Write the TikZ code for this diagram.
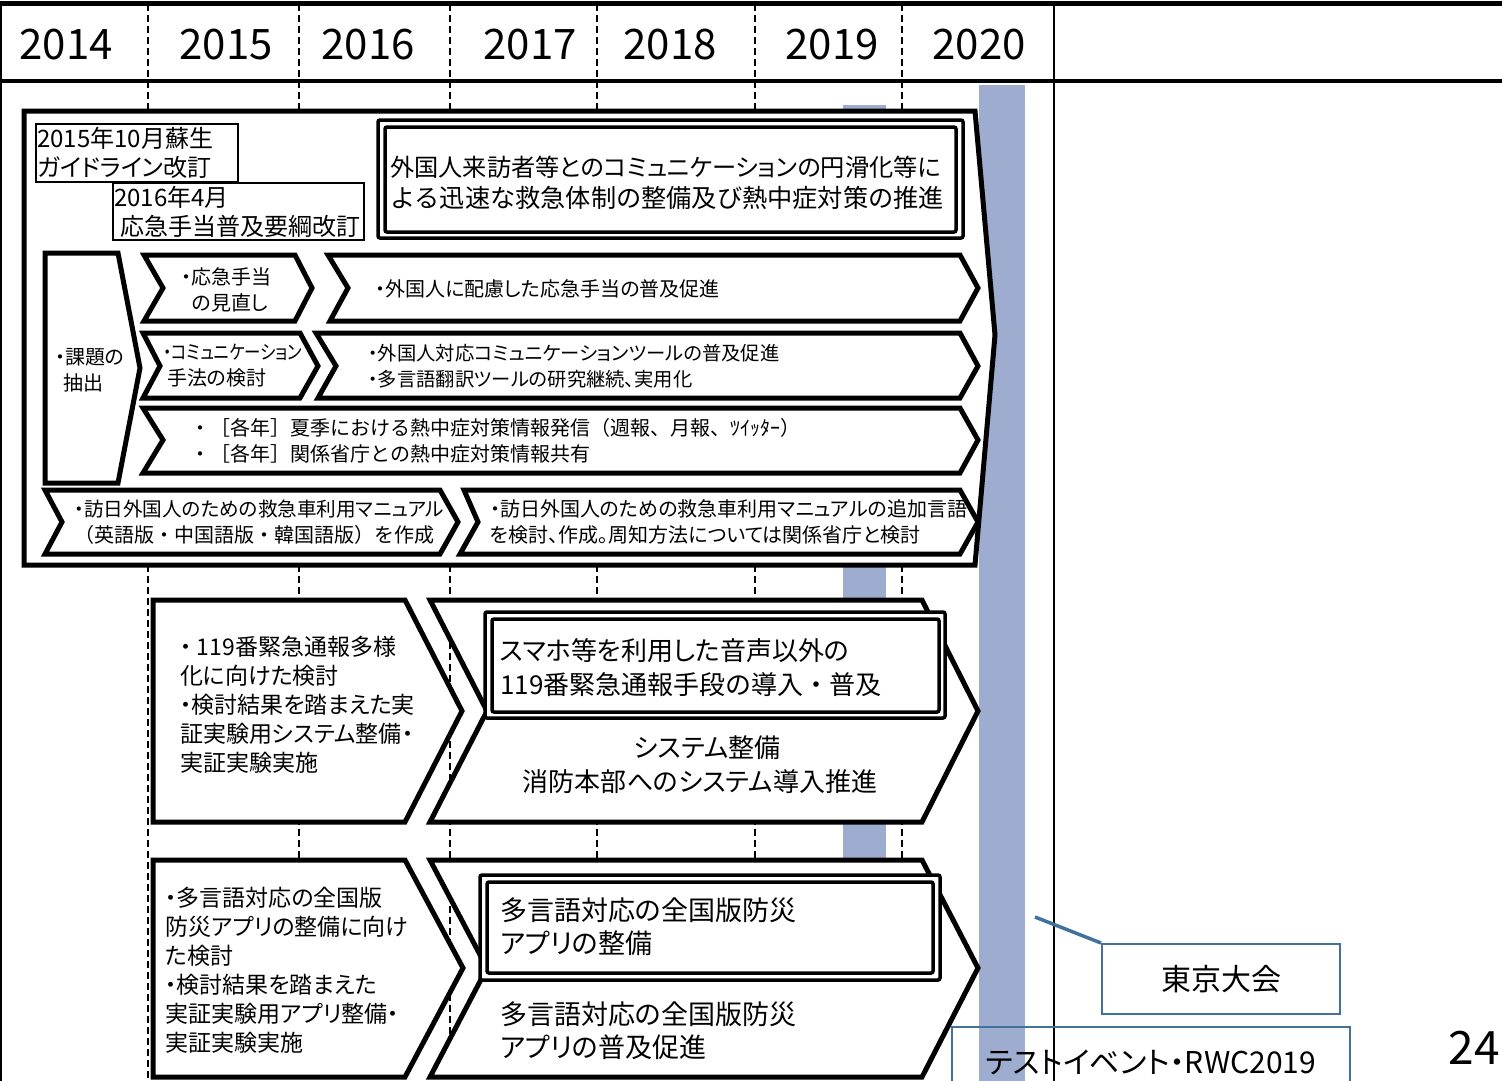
\documentclass[tikz,border=0pt]{standalone}
\usepackage{fontspec}
\setmainfont{Noto Sans CJK JP}[RawFeature=+palt]
\newfontfamily\jpfull{Noto Sans CJK JP}
\definecolor{steel}{RGB}{65,113,156}
\definecolor{bandc}{RGB}{158,172,208}
\tikzset{
  heavy/.style={line width=5pt, fill=white, line join=miter},
  dblbox/.style={line width=3.5pt, rounded corners=2pt, fill=white},
  thinbox/.style={line width=1.5pt, fill=white},
  vdash/.style={line width=1.5pt, dash pattern=on 7pt off 4pt},
  txt/.style={inner sep=0pt, align=left, anchor=west},
  ctxt/.style={inner sep=0pt, align=center},
  fyear/.style={font=\fontsize{42}{46}\selectfont},
  fa/.style={font=\fontsize{20}{26}\selectfont},
  fb/.style={font=\fontsize{23}{29}\selectfont},
  fc/.style={font=\fontsize{24}{29}\selectfont},
  fd/.style={font=\fontsize{24.2}{31}\selectfont},
  fe/.style={font=\fontsize{26}{34}\selectfont},
  ff/.style={font=\fontsize{27}{33}\selectfont},
  callbox/.style={draw=steel, line width=2pt, inner sep=0pt, font=\fontsize{30}{34}\selectfont},
}
\begin{document}
\begin{tikzpicture}[x=1pt,y=-1pt]
\useasboundingbox (0,0) rectangle (1502,1081);
\clip (0,0) rectangle (1502,1081);
% grid
\foreach \xx in {148,299,450,597,755,902} \draw[vdash] (\xx,4) -- (\xx,1081);
\draw[line width=5pt] (0,3.5) -- (1502,3.5);
\draw[line width=4pt] (0,81) -- (1502,81);
\draw[line width=2pt] (1,4) -- (1,1081);
\draw[line width=2.5pt] (1054,4) -- (1054,1081);
% years
\node[fyear, inner sep=0pt] (y14) at (66,45) {2014};
\node[fyear, inner sep=0pt] (y15) at (226,45) {2015};
\node[fyear, inner sep=0pt] (y16) at (368,45) {2016};
\node[fyear, inner sep=0pt] (y17) at (530,45) {2017};
\node[fyear, inner sep=0pt] (y18) at (670,45) {2018};
\node[fyear, inner sep=0pt] (y19) at (832,45) {2019};
\node[fyear, inner sep=0pt] (y20) at (979,45) {2020};
% bands
\fill[bandc] (843,105) rectangle (886,860);
\fill[bandc] (979,85) rectangle (1025,1081);
% upper big frame
\draw[heavy] (24,111) -- (975,111) -- (995,335) -- (975,565) -- (24,565) -- cycle;
\draw[thinbox] (36,124) rectangle (238,182);
\draw[thinbox] (113,183) rectangle (364,240);
\node[txt, fc] (g2015) at (37,153) {2015年10月蘇生\\ガイドライン改訂};
\node[txt, fc] (g2016) at (114,212) {2016年4月\\\hspace*{6pt}応急手当普及要綱改訂};
\draw[dblbox] (378,120) rectangle (963,238);
\draw[dblbox] (385,127) rectangle (956,232);
\node[txt, fd] (title) at (390,183) {外国人来訪者等とのコミュニケーションの円滑化等に\\{\jpfull\fontsize{25.2}{31}\selectfont よる迅速な救急体制の整備及び熱中症対策の推進}};
% kadai
\draw[heavy] (45,253) -- (118,253) -- (140,368) -- (118,483) -- (45,483) -- cycle;
\node[txt, fa] (kadai) at (55,370) {・課題の\\\hspace*{8pt}抽出};
% row 1
\draw[heavy] (144,255) -- (295,255) -- (312,288) -- (295,321) -- (144,321) -- (163,288) -- cycle;
\node[ctxt, fa] (r1l) at (226,290) {・応急手当\\\hspace*{8pt}の見直し};
\draw[heavy] (328,255) -- (960,255) -- (978,288) -- (960,321) -- (330,321) -- (348,288) -- cycle;
\node[txt, fa] (r1r) at (375,289) {・外国人に配慮した応急手当の普及促進};
% row 2
\draw[heavy] (143,333) -- (300,333) -- (318,366) -- (300,398) -- (143,398) -- (160,366) -- cycle;
\node[txt, fa] (r2l) at (163,366) {\scalebox{0.84}[1]{\fontsize{19.5}{26}\selectfont ・コミュニケーション}\\\hspace*{4pt}手法の検討};
\draw[heavy] (316,333) -- (960,333) -- (978,366) -- (960,398) -- (318,398) -- (336,366) -- cycle;
\node[txt, font=\fontsize{19.3}{26}\selectfont] (r2r) at (368,366) {・外国人対応コミュニケーションツールの普及促進\\・多言語翻訳ツールの研究継続、実用化};
% row 3
\draw[heavy] (143,408) -- (960,408) -- (978,440) -- (960,473) -- (143,473) -- (163,440) -- cycle;
\node[txt, font=\jpfull\fontsize{20}{26}\selectfont] (r3) at (190,441) {・［各年］夏季における熱中症対策情報発信（週報、月報、ﾂｲｯﾀｰ）\\・［各年］関係省庁との熱中症対策情報共有};
% row 4
\draw[heavy] (45,490) -- (440,490) -- (458,522) -- (440,554) -- (45,554) -- (62,522) -- cycle;
\node[txt, font=\fontsize{19.6}{26}\selectfont] (r4l) at (74,522) {・訪日外国人のための救急車利用マニュアル\\{\jpfull\fontsize{20}{26}\selectfont （英語版・中国語版・韓国語版）を作成}};
\draw[heavy] (464,490) -- (960,490) -- (978,522) -- (960,554) -- (460,554) -- (478,522) -- cycle;
\node[txt, fa] (r4r) at (490,522) {・訪日外国人のための救急車利用マニュアルの追加言語\\を検討、作成。周知方法については関係省庁と検討};
% section 119
\draw[heavy] (153,600) -- (405,600) -- (462,711) -- (405,822) -- (153,822) -- cycle;
\node[txt, fb] (s1l) at (180,705) {・ 119番緊急通報多様\\化に向けた検討\\・検討結果を踏まえた実\\証実験用システム整備・\\実証実験実施};
\draw[heavy] (430,600) -- (922,600) -- (978,711) -- (922,822) -- (430,822) -- (487,711) -- cycle;
\draw[dblbox] (485,612) rectangle (945,718);
\draw[dblbox] (492,619) rectangle (939,712);
\node[txt, fe] (s1t) at (500,668) {スマホ等を利用した音声以外の\\{\jpfull 119番緊急通報手段の導入・普及}};
\node[ctxt, fe] (s1b) at (700,765) {\hspace*{14pt}システム整備\\消防本部へのシステム導入推進};
% section app
\draw[heavy] (153,860) -- (405,860) -- (463,968) -- (405,1077) -- (153,1077) -- cycle;
\node[txt, fb] (s2l) at (165,970) {・多言語対応の全国版\\防災アプリの整備に向け\\た検討\\・検討結果を踏まえた\\実証実験用アプリ整備・\\実証実験実施};
\draw[heavy] (430,860) -- (922,860) -- (978,968) -- (922,1077) -- (430,1077) -- (487,968) -- cycle;
\draw[dblbox] (480,875) rectangle (940,980);
\draw[dblbox] (487,882) rectangle (933,973);
\node[txt, ff] (s2t) at (500,927) {多言語対応の全国版防災\\アプリの整備};
\node[txt, ff] (s2b) at (500,1031) {多言語対応の全国版防災\\アプリの普及促進};
% callouts
\node[callbox, minimum width=238pt, minimum height=70pt] (tokyo) at (1221,979) {東京大会};
\coordinate (cstart) at (1035,917);
\draw[steel, line width=3.5pt] (cstart) -- (tokyo.north west);
\node[callbox, minimum width=398pt, minimum height=70pt] (test) at (1151,1062) {テストイベント・RWC2019};
\node[inner sep=0pt, font=\fontsize{46}{50}\selectfont] (pg) at (1474,1048) {24};
\end{tikzpicture}
\end{document}
